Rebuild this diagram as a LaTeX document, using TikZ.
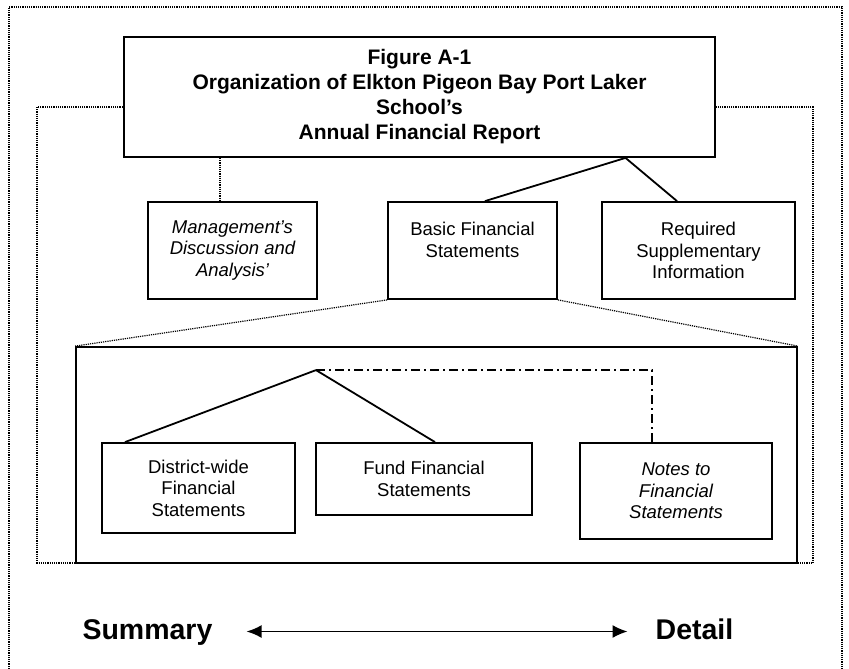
\documentclass[tikz,border=0pt]{standalone}
\usepackage{fontspec}
\setmainfont{Liberation Sans}
\usetikzlibrary{arrows.meta}

\tikzset{
	box/.style={draw, line width=1.8pt, fill=white, align=center, inner sep=0pt, font=\fontsize{18.5}{21.5}\selectfont},
	ibox/.style={box, font=\itshape\fontsize{18.5}{21.5}\selectfont},
	dots/.style={line width=1.2pt, dash pattern=on 1.2pt off 1pt},
	link/.style={line width=1.8pt},
	endword/.style={inner sep=0pt, text height=21pt, text depth=6pt, font=\bfseries\fontsize{28.5}{30}\selectfont}
}

\begin{document}
\begin{tikzpicture}[x=1pt, y=-1pt]
		\useasboundingbox (0,0) rectangle (849,669);
		\draw[dots] (9,669) -- (9,7) -- (842,7) -- (842,669);
		\draw[dots] (37,107) rectangle (813,563);
		\node [box, minimum width=591pt, minimum height=120pt, font=\bfseries\fontsize{21}{25}\selectfont] (title) at (419.5,97) {Figure A-1\\Organization of Elkton Pigeon Bay Port Laker\\School's\\Annual Financial Report};
		\node [ibox, minimum width=169pt, minimum height=97pt] (mda) at (232.5,250.5) {Management's\\Discussion and\\Analysis'};
		\node [box, minimum width=169pt, minimum height=97pt] (bfs) at (472.5,250.5) {Basic Financial\\Statements\\~};
		\node [box, minimum width=193pt, minimum height=97pt] (rsi) at (698.5,250.5) {Required\\Supplementary\\Information};
		\node [box, minimum width=721pt, minimum height=216pt] (fsbox) at (436.5,455) {};
		\node [box, minimum width=193pt, minimum height=90pt] (dwfs) at (198.5,488) {District-wide\\Financial\\Statements};
		\node [box, minimum width=216pt, minimum height=72pt] (ffs) at (424,479) {Fund Financial\\Statements};
		\node [ibox, minimum width=192pt, minimum height=96pt] (nfs) at (676,491) {Notes to\\Financial\\Statements};
		\node [endword] (summary) at (147.5,631.5) {Summary};
		\node [endword] (detail) at (694.5,631.5) {Detail};
		\coordinate (tsplit) at ([xshift=206pt]title.south);
		\coordinate (fsplit) at ([xshift=-120.5pt, yshift=-24pt]fsbox.north);
		\path[link]
					(tsplit) edge ([xshift=12.5pt]bfs.north)
					(tsplit) edge ([xshift=-21.5pt]rsi.north)
					(fsplit) edge ([xshift=-73.5pt]dwfs.north)
					(fsplit) edge ([xshift=11pt]ffs.north);
		\draw[link, dash pattern=on 9pt off 4pt on 2pt off 4pt] (fsplit) -| ([xshift=-24pt]nfs.north);
		\path[dots]
					([xshift=-12.5pt]mda.north |- title.south) edge ([xshift=-12.5pt]mda.north)
					(bfs.south west) edge (fsbox.north west)
					(bfs.south east) edge (fsbox.north east);
		\path[<->, line width=1.5pt, >={Latex[length=15pt,width=13pt]}]
					(summary) edge[shorten <=34pt, shorten >=28pt] (detail);
	\end{tikzpicture}
\end{document}
